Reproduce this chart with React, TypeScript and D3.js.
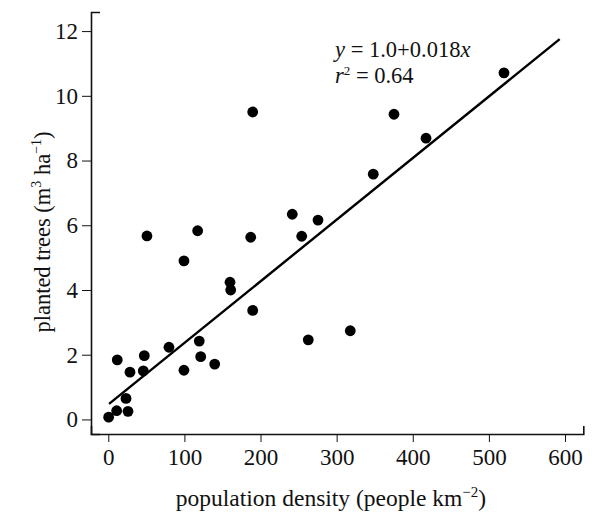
import React, { useEffect, useRef } from "react";
import * as d3 from "d3";

const density = [189.7, 241.7, 50.8, 117.4, 187.1, 254.1, 99.4, 519.8, 375.3, 417.4, 348.1, 275.5, 159.9, 160.8, 189.7, 119.5, 79.7, 11.8, 47.3, 121.4, 139.8, 28.5, 46.0, 99.4, 23.3, 11.0, 25.9, 0.5, 262.7, 317.9];
const trees = [9.5, 6.34, 5.67, 5.83, 5.63, 5.66, 4.9, 10.71, 9.43, 8.69, 7.58, 6.16, 4.24, 4.0, 3.37, 2.42, 2.23, 1.84, 1.97, 1.94, 1.71, 1.46, 1.5, 1.52, 0.65, 0.27, 0.25, 0.07, 2.46, 2.74];
const fitX = [1, 593];
const fitY = [0.48, 11.75];
const xTicks = [0, 100, 200, 300, 400, 500, 600];
const yTicks = [0, 2, 4, 6, 8, 10, 12];

const W = 592, H = 512;

export default function App() {
  const ref = useRef<SVGSVGElement>(null);
  useEffect(() => {
    const svg = d3.select(ref.current);
    svg.selectAll("*").remove();
    const x = d3.scaleLinear().domain([-22.7, 624]).range([91, 583.3]);
    const y = d3.scaleLinear().domain([-0.45, 12.59]).range([434, 12]);
    const font = "'Liberation Serif', 'Times New Roman', serif";

    const gx = svg.append("g").attr("transform", `translate(0,434)`)
      .call(d3.axisBottom(x).tickValues(xTicks).tickSize(8).tickSizeOuter(-8).tickPadding(7).tickFormat(d3.format("d")));
    const gy = svg.append("g").attr("transform", `translate(91,0)`)
      .call(d3.axisLeft(y).tickValues(yTicks).tickSize(9).tickSizeOuter(-9).tickPadding(4).tickFormat(d3.format("d")));
    [gx, gy].forEach((g) => {
      g.attr("font-family", font).attr("font-size", 23);
      g.select(".domain").attr("stroke", "#111").attr("stroke-width", 1.6);
      g.selectAll(".tick line").attr("stroke", "#111").attr("stroke-width", 1);
      g.selectAll(".tick text").attr("font-family", font).attr("font-size", 23).attr("fill", "#111");
    });

    const line = d3.line<number>().x((d, i) => x(fitX[i])).y((d, i) => y(fitY[i]));
    svg.append("path").attr("d", line(fitX)).attr("stroke", "#000").attr("stroke-width", 2.4).attr("fill", "none");

    svg.append("g").selectAll("circle").data(density).join("circle")
      .attr("cx", (d) => x(d)).attr("cy", (d, i) => y(trees[i])).attr("r", 5.4).attr("fill", "#000");

    const xt = svg.append("text").attr("x", 331).attr("y", 506).attr("text-anchor", "middle")
      .attr("font-family", font).attr("font-size", 23.5).attr("fill", "#111");
    xt.append("tspan").text("population density (people km");
    xt.append("tspan").text("\u22122").attr("font-size", 15).attr("dy", -9);
    xt.append("tspan").text(")").attr("dy", 9);

    const yt = svg.append("text").attr("transform", `translate(50,232) rotate(-90)`).attr("text-anchor", "middle")
      .attr("font-family", font).attr("font-size", 22.5).attr("fill", "#111");
    yt.append("tspan").text("planted trees (m");
    yt.append("tspan").text("3").attr("font-size", 14).attr("dy", -9);
    yt.append("tspan").text(" ha").attr("dy", 9);
    yt.append("tspan").text("\u22121").attr("font-size", 14).attr("dy", -9);
    yt.append("tspan").text(")").attr("dy", 9);

    const a1 = svg.append("text").attr("x", 335).attr("y", 57).attr("font-family", font).attr("font-size", 22.5).attr("fill", "#111");
    a1.append("tspan").text("y").attr("font-style", "italic");
    a1.append("tspan").text(" = 1.0+0.018");
    a1.append("tspan").text("x").attr("font-style", "italic");
    const a2 = svg.append("text").attr("x", 335).attr("y", 83).attr("font-family", font).attr("font-size", 22.5).attr("fill", "#111");
    a2.append("tspan").text("r").attr("font-style", "italic");
    a2.append("tspan").text("2").attr("font-size", 13).attr("dy", -8);
    a2.append("tspan").text(" = 0.64").attr("dy", 8);
  }, []);
  return <svg ref={ref} width={W} height={H} style={{ display: "block", position: "absolute", left: 0, top: 0 }} />;
}
